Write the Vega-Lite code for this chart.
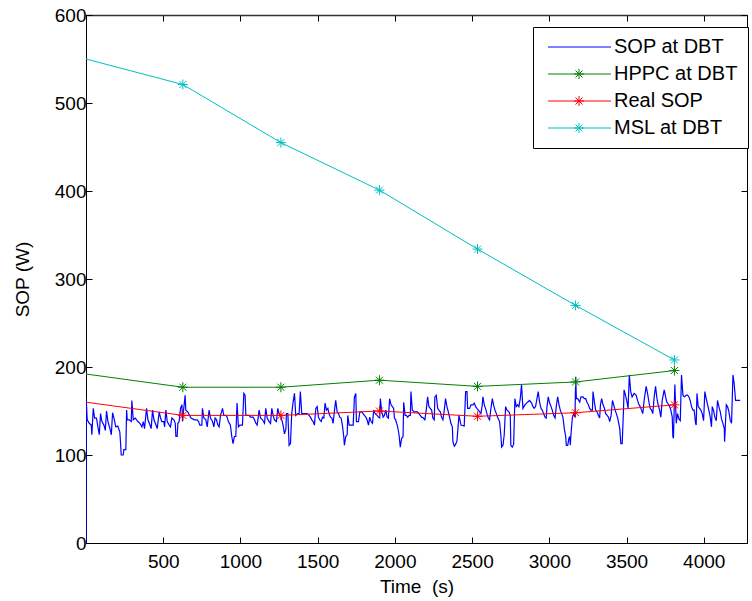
{
"$schema": "https://vega.github.io/schema/vega-lite/v6.json",
"width": 661, "height": 528,
"autosize": "none",
"padding": {"left": 86, "top": 15, "right": 5, "bottom": 58},
"background": "white",
"config": {
  "font": "Liberation Sans",
  "view": {"stroke": "#000", "strokeWidth": 1},
  "axis": {"grid": false, "labelFont": "Liberation Sans", "labelFontSize": 19, "labelColor": "#000", "domainColor": "#000", "tickColor": "#000", "tickSize": -6, "titleFont": "Liberation Sans", "titleFontSize": 19, "titleFontWeight": "normal", "titleColor": "#000"},
  "legend": {"labelFont": "Liberation Sans", "labelFontSize": 20, "labelColor": "#000", "strokeColor": "#000", "fillColor": "#fff", "padding": 10, "symbolSize": 100, "symbolStrokeWidth": 1, "rowPadding": 7, "labelOffset": 51, "titlePadding": 0}
},
"datasets": {
"sop": [
{"time":0,"sop":0},{"time":1,"sop":164},{"time":8,"sop":140},{"time":21,"sop":136},{"time":34,"sop":134},{"time":38,"sop":123},{"time":47,"sop":153},{"time":56,"sop":142},{"time":68,"sop":142},{"time":77,"sop":132},{"time":86,"sop":123},{"time":94,"sop":147},{"time":103,"sop":138},{"time":116,"sop":134},{"time":125,"sop":128},{"time":133,"sop":150},{"time":142,"sop":138},{"time":155,"sop":130},{"time":164,"sop":123},{"time":172,"sop":148},{"time":181,"sop":142},{"time":193,"sop":132},{"time":206,"sop":133},{"time":219,"sop":126},{"time":224,"sop":113},{"time":228,"sop":100},{"time":241,"sop":100},{"time":245,"sop":106},{"time":258,"sop":106},{"time":263,"sop":151},{"time":267,"sop":140},{"time":280,"sop":140},{"time":293,"sop":138},{"time":297,"sop":162},{"time":306,"sop":140},{"time":319,"sop":142},{"time":336,"sop":138},{"time":349,"sop":136},{"time":362,"sop":132},{"time":371,"sop":138},{"time":379,"sop":130},{"time":392,"sop":153},{"time":401,"sop":140},{"time":414,"sop":134},{"time":422,"sop":130},{"time":431,"sop":151},{"time":440,"sop":140},{"time":453,"sop":134},{"time":461,"sop":130},{"time":474,"sop":149},{"time":483,"sop":142},{"time":491,"sop":138},{"time":504,"sop":138},{"time":509,"sop":132},{"time":517,"sop":151},{"time":526,"sop":138},{"time":539,"sop":134},{"time":547,"sop":132},{"time":556,"sop":142},{"time":569,"sop":140},{"time":578,"sop":136},{"time":582,"sop":121},{"time":590,"sop":121},{"time":595,"sop":136},{"time":603,"sop":138},{"time":612,"sop":153},{"time":621,"sop":157},{"time":625,"sop":138},{"time":633,"sop":153},{"time":642,"sop":168},{"time":646,"sop":151},{"time":659,"sop":149},{"time":680,"sop":142},
{"time":703,"sop":140},{"time":720,"sop":140},{"time":729,"sop":138},{"time":737,"sop":134},{"time":750,"sop":134},{"time":754,"sop":153},{"time":763,"sop":142},{"time":776,"sop":140},{"time":785,"sop":132},{"time":797,"sop":151},{"time":806,"sop":142},{"time":819,"sop":138},{"time":828,"sop":132},{"time":836,"sop":142},{"time":845,"sop":140},{"time":854,"sop":134},{"time":862,"sop":132},{"time":871,"sop":145},{"time":884,"sop":153},{"time":892,"sop":145},{"time":905,"sop":145},{"time":914,"sop":143},{"time":922,"sop":138},{"time":935,"sop":134},{"time":944,"sop":121},{"time":952,"sop":113},{"time":961,"sop":121},{"time":970,"sop":121},{"time":978,"sop":159},{"time":987,"sop":132},{"time":996,"sop":134},{"time":1013,"sop":134},{"time":1022,"sop":170},{"time":1030,"sop":168},{"time":1035,"sop":145},{"time":1048,"sop":145},{"time":1056,"sop":145},{"time":1065,"sop":143},{"time":1074,"sop":143},{"time":1082,"sop":143},{"time":1091,"sop":140},{"time":1100,"sop":136},{"time":1108,"sop":134},{"time":1113,"sop":140},{"time":1121,"sop":151},{"time":1130,"sop":142},{"time":1143,"sop":140},{"time":1156,"sop":136},{"time":1164,"sop":153},{"time":1173,"sop":142},{"time":1186,"sop":138},{"time":1195,"sop":136},{"time":1203,"sop":153},{"time":1212,"sop":145},{"time":1220,"sop":140},{"time":1233,"sop":138},{"time":1242,"sop":153},{"time":1250,"sop":147},{"time":1259,"sop":145},{"time":1268,"sop":140},{"time":1276,"sop":134},{"time":1285,"sop":124},{"time":1294,"sop":129},{"time":1298,"sop":147},{"time":1307,"sop":147},{"time":1315,"sop":111},{"time":1324,"sop":113},{"time":1332,"sop":147},{"time":1341,"sop":160},{"time":1350,"sop":170},{"time":1358,"sop":145},{"time":1371,"sop":147},{"time":1380,"sop":147},{"time":1388,"sop":172},{"time":1397,"sop":147},{"time":1415,"sop":147},
{"time":1432,"sop":147},{"time":1445,"sop":145},{"time":1453,"sop":143},{"time":1462,"sop":140},{"time":1471,"sop":138},{"time":1479,"sop":134},{"time":1488,"sop":153},{"time":1497,"sop":155},{"time":1505,"sop":143},{"time":1514,"sop":140},{"time":1523,"sop":138},{"time":1531,"sop":143},{"time":1540,"sop":142},{"time":1548,"sop":159},{"time":1557,"sop":151},{"time":1566,"sop":153},{"time":1574,"sop":147},{"time":1583,"sop":143},{"time":1592,"sop":142},{"time":1600,"sop":136},{"time":1609,"sop":151},{"time":1617,"sop":162},{"time":1626,"sop":149},{"time":1635,"sop":147},{"time":1643,"sop":143},{"time":1652,"sop":142},{"time":1660,"sop":134},{"time":1669,"sop":121},{"time":1673,"sop":111},{"time":1682,"sop":121},{"time":1691,"sop":123},{"time":1695,"sop":145},{"time":1704,"sop":134},{"time":1712,"sop":134},{"time":1730,"sop":134},{"time":1738,"sop":166},{"time":1747,"sop":170},{"time":1751,"sop":138},{"time":1764,"sop":138},{"time":1773,"sop":149},{"time":1786,"sop":149},{"time":1794,"sop":147},{"time":1803,"sop":145},{"time":1812,"sop":143},{"time":1820,"sop":140},{"time":1829,"sop":134},{"time":1837,"sop":143},{"time":1846,"sop":138},{"time":1855,"sop":136},{"time":1863,"sop":151},{"time":1872,"sop":147},{"time":1885,"sop":145},{"time":1893,"sop":143},{"time":1902,"sop":142},{"time":1906,"sop":164},{"time":1915,"sop":149},{"time":1924,"sop":143},{"time":1932,"sop":145},{"time":1941,"sop":151},{"time":1950,"sop":143},{"time":1958,"sop":142},{"time":1966,"sop":164},{"time":1975,"sop":157},{"time":1984,"sop":155},{"time":1992,"sop":153},{"time":1997,"sop":142},{"time":2005,"sop":140},{"time":2018,"sop":132},{"time":2027,"sop":123},{"time":2035,"sop":109},{"time":2044,"sop":119},{"time":2053,"sop":121},{"time":2057,"sop":160},{"time":2066,"sop":145},{"time":2074,"sop":145},{"time":2083,"sop":143},{"time":2092,"sop":145},{"time":2100,"sop":145},{"time":2104,"sop":172},{"time":2113,"sop":151},{"time":2126,"sop":149},
{"time":2147,"sop":149},{"time":2155,"sop":147},{"time":2164,"sop":145},{"time":2173,"sop":143},{"time":2185,"sop":142},{"time":2194,"sop":140},{"time":2203,"sop":151},{"time":2212,"sop":166},{"time":2220,"sop":155},{"time":2229,"sop":153},{"time":2238,"sop":151},{"time":2246,"sop":142},{"time":2255,"sop":140},{"time":2259,"sop":166},{"time":2268,"sop":168},{"time":2277,"sop":153},{"time":2285,"sop":151},{"time":2294,"sop":149},{"time":2302,"sop":143},{"time":2311,"sop":140},{"time":2320,"sop":151},{"time":2328,"sop":164},{"time":2337,"sop":155},{"time":2346,"sop":149},{"time":2354,"sop":143},{"time":2363,"sop":136},{"time":2372,"sop":132},{"time":2376,"sop":115},{"time":2385,"sop":110},{"time":2393,"sop":112},{"time":2402,"sop":116},{"time":2415,"sop":145},{"time":2428,"sop":134},{"time":2449,"sop":133},{"time":2458,"sop":172},{"time":2467,"sop":172},{"time":2471,"sop":153},{"time":2484,"sop":153},{"time":2493,"sop":157},{"time":2505,"sop":157},{"time":2514,"sop":159},{"time":2523,"sop":155},{"time":2531,"sop":153},{"time":2540,"sop":151},{"time":2549,"sop":149},{"time":2557,"sop":147},{"time":2566,"sop":157},{"time":2570,"sop":166},{"time":2579,"sop":157},{"time":2587,"sop":153},{"time":2596,"sop":147},{"time":2605,"sop":142},{"time":2613,"sop":140},{"time":2622,"sop":153},{"time":2631,"sop":164},{"time":2639,"sop":157},{"time":2648,"sop":151},{"time":2657,"sop":147},{"time":2665,"sop":143},{"time":2678,"sop":138},{"time":2687,"sop":121},{"time":2691,"sop":109},{"time":2700,"sop":111},{"time":2708,"sop":123},{"time":2717,"sop":155},{"time":2726,"sop":151},{"time":2739,"sop":149},{"time":2747,"sop":145},{"time":2751,"sop":111},{"time":2760,"sop":109},{"time":2769,"sop":112},{"time":2777,"sop":164},{"time":2786,"sop":155},{"time":2795,"sop":157},{"time":2803,"sop":155},{"time":2812,"sop":164},{"time":2820,"sop":180},{"time":2829,"sop":153},{"time":2842,"sop":157},
{"time":2859,"sop":160},{"time":2872,"sop":162},{"time":2885,"sop":159},{"time":2894,"sop":155},{"time":2902,"sop":153},{"time":2911,"sop":155},{"time":2920,"sop":164},{"time":2928,"sop":172},{"time":2937,"sop":160},{"time":2946,"sop":153},{"time":2954,"sop":151},{"time":2963,"sop":147},{"time":2972,"sop":143},{"time":2980,"sop":142},{"time":2985,"sop":155},{"time":2993,"sop":166},{"time":3002,"sop":159},{"time":3011,"sop":155},{"time":3019,"sop":151},{"time":3028,"sop":145},{"time":3037,"sop":142},{"time":3045,"sop":155},{"time":3054,"sop":166},{"time":3063,"sop":157},{"time":3071,"sop":151},{"time":3080,"sop":147},{"time":3088,"sop":143},{"time":3097,"sop":130},{"time":3106,"sop":121},{"time":3110,"sop":111},{"time":3119,"sop":111},{"time":3127,"sop":119},{"time":3132,"sop":121},{"time":3136,"sop":111},{"time":3140,"sop":123},{"time":3149,"sop":142},{"time":3158,"sop":147},{"time":3166,"sop":143},{"time":3171,"sop":189},{"time":3175,"sop":164},{"time":3184,"sop":164},{"time":3197,"sop":160},{"time":3205,"sop":166},{"time":3218,"sop":166},{"time":3227,"sop":164},{"time":3236,"sop":164},{"time":3244,"sop":160},{"time":3253,"sop":157},{"time":3261,"sop":153},{"time":3270,"sop":151},{"time":3279,"sop":151},{"time":3283,"sop":172},{"time":3292,"sop":160},{"time":3300,"sop":151},{"time":3309,"sop":149},{"time":3318,"sop":145},{"time":3326,"sop":142},{"time":3331,"sop":157},{"time":3339,"sop":164},{"time":3348,"sop":157},{"time":3357,"sop":153},{"time":3365,"sop":147},{"time":3374,"sop":145},{"time":3383,"sop":143},{"time":3391,"sop":138},{"time":3400,"sop":145},{"time":3409,"sop":162},{"time":3417,"sop":157},{"time":3426,"sop":151},{"time":3434,"sop":147},{"time":3443,"sop":142},{"time":3456,"sop":130},{"time":3463,"sop":113},{"time":3472,"sop":113},{"time":3481,"sop":155},{"time":3484,"sop":174},{"time":3493,"sop":168},{"time":3501,"sop":162},{"time":3510,"sop":153},{"time":3518,"sop":191},{"time":3527,"sop":172},{"time":3536,"sop":166},{"time":3549,"sop":170},
{"time":3562,"sop":168},{"time":3571,"sop":162},{"time":3579,"sop":158},{"time":3588,"sop":155},{"time":3597,"sop":151},{"time":3605,"sop":147},{"time":3614,"sop":162},{"time":3627,"sop":178},{"time":3636,"sop":170},{"time":3645,"sop":160},{"time":3653,"sop":153},{"time":3662,"sop":151},{"time":3670,"sop":147},{"time":3679,"sop":166},{"time":3688,"sop":178},{"time":3697,"sop":164},{"time":3705,"sop":157},{"time":3714,"sop":151},{"time":3722,"sop":143},{"time":3731,"sop":162},{"time":3744,"sop":174},{"time":3753,"sop":166},{"time":3761,"sop":160},{"time":3770,"sop":158},{"time":3779,"sop":155},{"time":3787,"sop":151},{"time":3796,"sop":143},{"time":3800,"sop":121},{"time":3804,"sop":119},{"time":3809,"sop":155},{"time":3813,"sop":180},{"time":3817,"sop":160},{"time":3822,"sop":136},{"time":3830,"sop":147},{"time":3839,"sop":141},{"time":3848,"sop":139},{"time":3856,"sop":191},{"time":3865,"sop":168},{"time":3874,"sop":166},{"time":3887,"sop":168},{"time":3895,"sop":168},{"time":3904,"sop":166},{"time":3912,"sop":162},{"time":3921,"sop":155},{"time":3930,"sop":151},{"time":3938,"sop":151},{"time":3947,"sop":136},{"time":3951,"sop":134},{"time":3956,"sop":170},{"time":3964,"sop":155},{"time":3973,"sop":153},{"time":3981,"sop":151},{"time":3990,"sop":147},{"time":3999,"sop":139},{"time":4007,"sop":172},{"time":4016,"sop":164},{"time":4025,"sop":157},{"time":4033,"sop":151},{"time":4042,"sop":143},{"time":4050,"sop":132},{"time":4055,"sop":155},{"time":4063,"sop":151},{"time":4072,"sop":143},{"time":4081,"sop":139},{"time":4089,"sop":162},{"time":4098,"sop":155},{"time":4107,"sop":149},{"time":4115,"sop":141},{"time":4124,"sop":136},{"time":4133,"sop":130},{"time":4135,"sop":115},{"time":4146,"sop":157},{"time":4154,"sop":155},{"time":4163,"sop":149},{"time":4172,"sop":139},{"time":4180,"sop":136},{"time":4189,"sop":191},{"time":4197,"sop":181},{"time":4206,"sop":162},{"time":4219,"sop":162},{"time":4236,"sop":162}
],
"hppc": [{"time":0,"sop":192},{"time":627,"sop":177},{"time":1262,"sop":177},{"time":1900,"sop":185},{"time":2535,"sop":178},{"time":3170,"sop":183},{"time":3810,"sop":196}],
"real": [{"time":0,"sop":160},{"time":627,"sop":145},{"time":1262,"sop":145},{"time":1900,"sop":150},{"time":2535,"sop":144},{"time":3170,"sop":148},{"time":3810,"sop":157}],
"msl": [{"time":0,"sop":550},{"time":627,"sop":521},{"time":1262,"sop":455},{"time":1900,"sop":401},{"time":2535,"sop":334},{"time":3170,"sop":270},{"time":3810,"sop":208}],
"names": [{"series":"SOP at DBT"},{"series":"HPPC at DBT"},{"series":"Real SOP"},{"series":"MSL at DBT"}]
},
"layer": [
{"data":{"name":"sop"},"mark":{"type":"line","color":"#0000FF","strokeWidth":1.2,"clip":true},
 "encoding":{
  "x":{"field":"time","type":"quantitative","scale":{"domain":[0,4280],"nice":false,"zero":false},
       "axis":{"orient":"bottom","values":[500,1000,1500,2000,2500,3000,3500,4000],"format":"d","labelPadding":15,"title":"Time\u00a0 (s)","titlePadding":6}},
  "y":{"field":"sop","type":"quantitative","scale":{"domain":[0,600],"nice":false},
       "axis":{"orient":"left","values":[0,100,200,300,400,500,600],"format":"d","labelPadding":6,"title":"SOP (W)","titlePadding":22}}}},
{"data":{"name":"hppc"},"mark":{"type":"line","color":"#008000","strokeWidth":1,"clip":true},
 "encoding":{"x":{"field":"time","type":"quantitative","axis":null},"y":{"field":"sop","type":"quantitative","axis":null}}},
{"data":{"name":"real"},"mark":{"type":"line","color":"#FF0000","strokeWidth":1,"clip":true},
 "encoding":{"x":{"field":"time","type":"quantitative","axis":null},"y":{"field":"sop","type":"quantitative","axis":null}}},
{"data":{"name":"msl"},"mark":{"type":"line","color":"#00BFBF","strokeWidth":1,"clip":true},
 "encoding":{"x":{"field":"time","type":"quantitative","axis":null},"y":{"field":"sop","type":"quantitative","axis":null}}},
{"data":{"name":"hppc"},"transform":[{"filter":"datum.time > 0"}],"mark":{"type":"point","shape":"M-1,0L1,0M0,-1L0,1M-0.7,-0.7L0.7,0.7M-0.7,0.7L0.7,-0.7","size":100,"filled":false,"color":"#008000","strokeWidth":1,"opacity":1},
 "encoding":{"x":{"field":"time","type":"quantitative","axis":null},"y":{"field":"sop","type":"quantitative","axis":null}}},
{"data":{"name":"real"},"transform":[{"filter":"datum.time > 0"}],"mark":{"type":"point","shape":"M-1,0L1,0M0,-1L0,1M-0.7,-0.7L0.7,0.7M-0.7,0.7L0.7,-0.7","size":100,"filled":false,"color":"#FF0000","strokeWidth":1,"opacity":1},
 "encoding":{"x":{"field":"time","type":"quantitative","axis":null},"y":{"field":"sop","type":"quantitative","axis":null}}},
{"data":{"name":"msl"},"transform":[{"filter":"datum.time > 0"}],"mark":{"type":"point","shape":"M-1,0L1,0M0,-1L0,1M-0.7,-0.7L0.7,0.7M-0.7,0.7L0.7,-0.7","size":100,"filled":false,"color":"#00BFBF","strokeWidth":1,"opacity":1},
 "encoding":{"x":{"field":"time","type":"quantitative","axis":null},"y":{"field":"sop","type":"quantitative","axis":null}}},
{"data":{"name":"sop"},"transform":[{"filter":"false"}],"mark":{"type":"point","opacity":1},
 "encoding":{
  "x":{"field":"time","type":"quantitative","axis":{"orient":"top","values":[500,1000,1500,2000,2500,3000,3500,4000],"labels":false,"title":null,"domainWidth":1.5,"domainColor":"#333"}},
  "y":{"field":"sop","type":"quantitative","axis":{"orient":"right","values":[0,100,200,300,400,500,600],"labels":false,"title":null}}}},
{"data":{"name":"names"},"transform":[{"filter":"false"}],"mark":{"type":"point","filled":false,"opacity":1,"strokeWidth":1},
 "encoding":{
  "color":{"field":"series","type":"nominal","scale":{"domain":["SOP at DBT","HPPC at DBT","Real SOP","MSL at DBT"],"range":["#0000FF","#008000","#FF0000","#00BFBF"]},
     "legend":{"title":null,"orient":"none","legendX":447,"legendY":12}},
  "shape":{"field":"series","type":"nominal","scale":{"domain":["SOP at DBT","HPPC at DBT","Real SOP","MSL at DBT"],"range":["M-1,0H11.6","M-1,0H11.6M4.2,0H6.2M5.2,-1V1M4.5,-0.7L5.9,0.7M4.5,0.7L5.9,-0.7","M-1,0H11.6M4.2,0H6.2M5.2,-1V1M4.5,-0.7L5.9,0.7M4.5,0.7L5.9,-0.7","M-1,0H11.6M4.2,0H6.2M5.2,-1V1M4.5,-0.7L5.9,0.7M4.5,0.7L5.9,-0.7"]},
     "legend":{"title":null,"orient":"none","legendX":447,"legendY":12}}}}
],
"resolve": {"axis": {"x": "independent", "y": "independent"}}
}
